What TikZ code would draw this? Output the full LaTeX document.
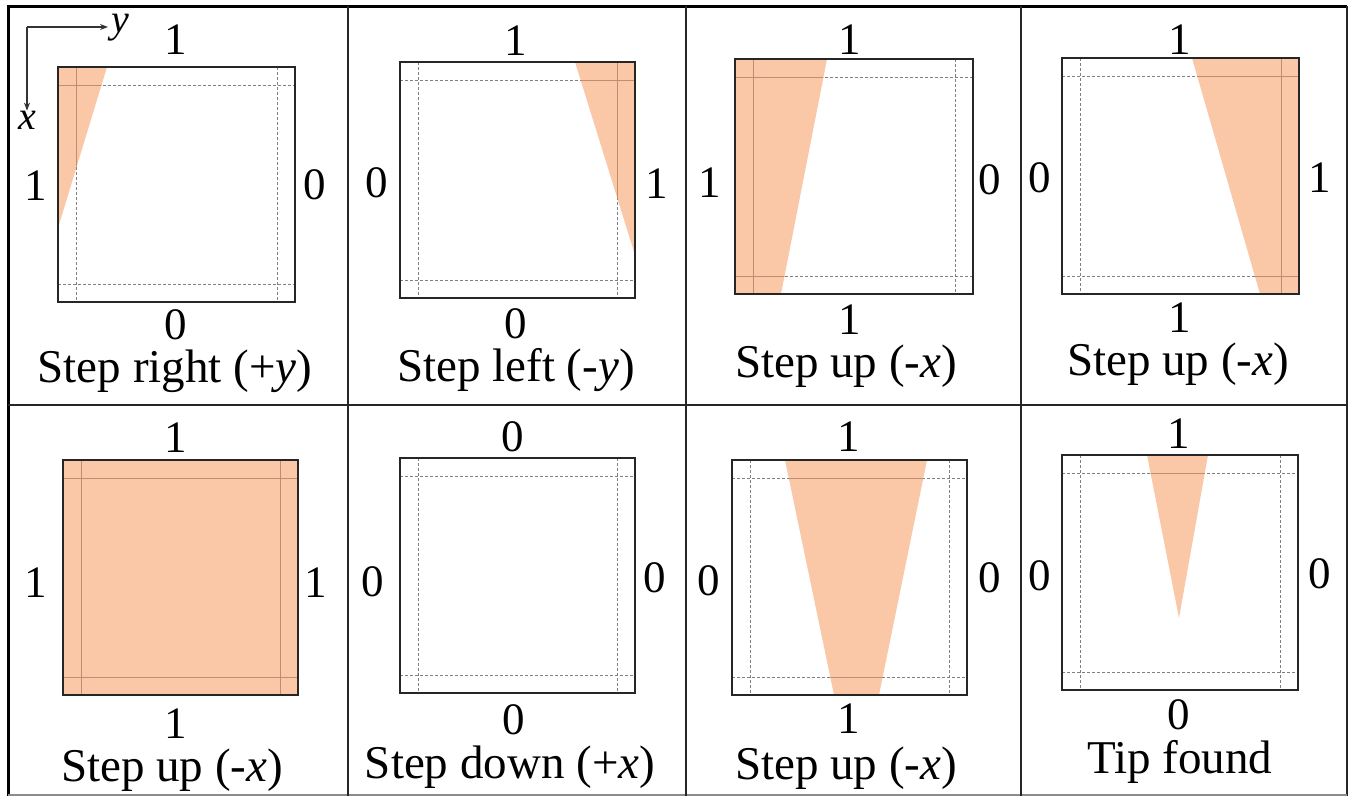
\documentclass[tikz,border=0pt]{standalone}
\usepackage{fontspec}
\setmainfont{Liberation Serif}
\usetikzlibrary{arrows.meta}
\definecolor{peach}{RGB}{250,200,166}
\definecolor{brownline}{RGB}{196,140,110}
\tikzset{
  txt/.style={inner sep=0pt, font=\fontsize{45}{50}\selectfont},
  captxt/.style={inner sep=0pt, font=\fontsize{47}{53}\selectfont},
  axtxt/.style={inner sep=0pt, font=\fontsize{40}{46}\selectfont\itshape},
  border/.style={draw=black!85, line width=2pt},
  dashln/.style={draw=black!50, line width=0.9pt, dash pattern=on 3pt off 2pt},
  inln/.style={draw=brownline, line width=1pt},
  gridln/.style={draw=black!85, line width=1.6pt},
  axisarrow/.style={draw=black!80, line width=1.2pt, -{Stealth[length=8pt,width=6pt]}},
}
% #1 x1, #2 y1, #3 x2, #4 y2
\newcommand\sqlines[4]{%
  \draw[dashln] ({#1+18},#2) -- ({#1+18},#4);
  \draw[dashln] ({#3-18},#2) -- ({#3-18},#4);
  \draw[dashln] (#1,{#2+18}) -- (#3,{#2+18});
  \draw[dashln] (#1,{#4-18}) -- (#3,{#4-18});
}
\newcommand\sqinner[4]{%
  \draw[inln] ({#1+18},#2) -- ({#1+18},#4);
  \draw[inln] ({#3-18},#2) -- ({#3-18},#4);
  \draw[inln] (#1,{#2+18}) -- (#3,{#2+18});
  \draw[inln] (#1,{#4-18}) -- (#3,{#4-18});
}
% #5 = closed polygon path
\newcommand\shadedpanel[5]{%
  \fill[peach] #5;
  \sqlines{#1}{#2}{#3}{#4}
  \begin{scope}\clip #5; \sqinner{#1}{#2}{#3}{#4}\end{scope}
  \draw[border] (#1,#2) rectangle (#3,#4);
}
\newcommand\plainpanel[4]{%
  \sqlines{#1}{#2}{#3}{#4}
  \draw[border] (#1,#2) rectangle (#3,#4);
}
\begin{document}
\begin{tikzpicture}[x=1pt,y=-1pt]
\useasboundingbox (0,0) rectangle (1355,796);
\fill[white] (0,0) rectangle (1355,796);

% ---------- grid / frame ----------
\draw[draw=black, line width=3pt] (8,796) -- (8,6) -- (1347,6);
\draw[gridln] (1347,6) -- (1347,796);
\draw[draw=black!45, line width=1.2pt] (8,795) -- (1347,795);
\draw[gridln] (348,6) -- (348,796);
\draw[gridln] (686,6) -- (686,796);
\draw[gridln] (1021,6) -- (1021,796);
\draw[gridln] (8,405) -- (1347,405);

% ---------- axes ----------
\coordinate (ax0) at (27,27);
\node[axtxt] (ylab) at (120,28) {y};
\node[axtxt] (xlab) at (27,120) {x};
\draw[axisarrow] (ax0) -- (108,27);
\draw[axisarrow] (ax0) -- (ax0 |- xlab.north);

% ---------- panel 1 ----------
\shadedpanel{58}{67}{295}{302}{(58,67) -- (107,67) -- (58,228) -- cycle}
\node[txt] (p1t) at (176,40) {1};
\node[txt] (p1l) at (36,186) {1};
\node[txt] (p1r) at (315,185) {0};
\node[txt] (p1b) at (176,325) {0};
\node[captxt] (p1c) at (175,371) {Step right (+\textit{y})};

% ---------- panel 2 ----------
\shadedpanel{400}{62}{635}{298}{(575,62) -- (635,62) -- (635,255) -- cycle}
\node[txt] (p2t) at (516,41) {1};
\node[txt] (p2l) at (377,183) {0};
\node[txt] (p2r) at (657,184) {1};
\node[txt] (p2b) at (516,324) {0};
\node[captxt] (p2c) at (516,370) {Step left (-\textit{y})};

% ---------- panel 3 ----------
\shadedpanel{735}{59}{973}{294}{(735,59) -- (827,59) -- (781,294) -- (735,294) -- cycle}
\node[txt] (p3t) at (850,40) {1};
\node[txt] (p3l) at (710,183) {1};
\node[txt] (p3r) at (990,180) {0};
\node[txt] (p3b) at (850,320) {1};
\node[captxt] (p3c) at (846,366) {Step up (-\textit{x})};

% ---------- panel 4 ----------
\shadedpanel{1062}{58}{1299}{294}{(1192,58) -- (1299,58) -- (1299,294) -- (1260,294) -- cycle}
\node[txt] (p4t) at (1180,40) {1};
\node[txt] (p4l) at (1040,178) {0};
\node[txt] (p4r) at (1320,178) {1};
\node[txt] (p4b) at (1180,318) {1};
\node[captxt] (p4c) at (1178,364) {Step up (-\textit{x})};

% ---------- panel 5 ----------
\shadedpanel{63}{460}{298}{695}{(63,460) rectangle (298,695)}
\node[txt] (p5t) at (176,438) {1};
\node[txt] (p5l) at (36,583) {1};
\node[txt] (p5r) at (316,583) {1};
\node[txt] (p5b) at (176,724) {1};
\node[captxt] (p5c) at (172,770) {Step up (-\textit{x})};

% ---------- panel 6 ----------
\plainpanel{400}{458}{635}{693}
\node[txt] (p6t) at (513,437) {0};
\node[txt] (p6l) at (373,582) {0};
\node[txt] (p6r) at (655,578) {0};
\node[txt] (p6b) at (514,720) {0};
\node[captxt] (p6c) at (510,767) {Step down (+\textit{x})};

% ---------- panel 7 ----------
\shadedpanel{732}{460}{967}{695}{(785,460) -- (927,460) -- (879,695) -- (834,695) -- cycle}
\node[txt] (p7t) at (849,437) {1};
\node[txt] (p7l) at (709,581) {0};
\node[txt] (p7r) at (990,578) {0};
\node[txt] (p7b) at (849,719) {1};
\node[captxt] (p7c) at (846,768) {Step up (-\textit{x})};

% ---------- panel 8 ----------
\shadedpanel{1062}{455}{1298}{690}{(1147,455) -- (1208,455) -- (1179,618) -- cycle}
\node[txt] (p8t) at (1179,434) {1};
\node[txt] (p8l) at (1040,576) {0};
\node[txt] (p8r) at (1320,574) {0};
\node[txt] (p8b) at (1179,715) {0};
\node[captxt] (p8c) at (1180,762) {Tip found};
\end{tikzpicture}
\end{document}
